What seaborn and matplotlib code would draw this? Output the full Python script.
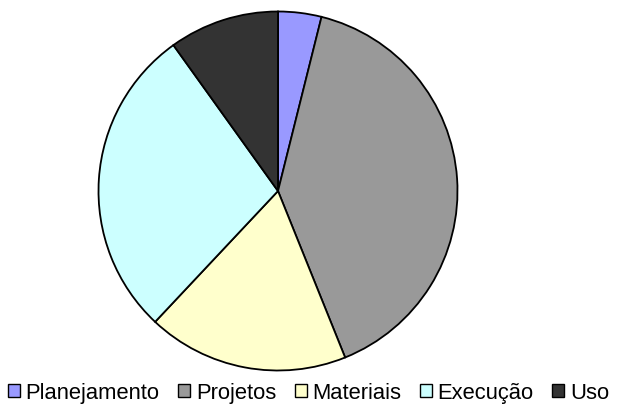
import matplotlib
matplotlib.use("Agg")
import matplotlib.pyplot as plt
from matplotlib.patches import Patch
import seaborn as sns

# data (percent)
labels = ["Planejamento", "Projetos", "Materiais", "Execução", "Uso"]
values = [3.9, 40.0, 18.1, 28.1, 9.9]
colors = ["#9999FF", "#999999", "#FFFFCC", "#CCFFFF", "#333333"]

sns.set_theme(style="white")
plt.rcParams["font.family"] = ["Liberation Sans", "DejaVu Sans"]
plt.rcParams["text.color"] = "black"

fig = plt.figure(figsize=(6.19, 4.06), dpi=100)
W, H = 619, 406
cx, cy, r = 278, 192, 179.5
ax = fig.add_axes([(cx - r) / W, (H - cy - r) / H, 2 * r / W, 2 * r / H])

ax.pie(values, colors=colors, startangle=90, counterclock=False,
       wedgeprops=dict(edgecolor="black", linewidth=1.3), radius=1)
ax.set_xlim(-1.0, 1.0)
ax.set_ylim(-1.0, 1.0)
ax.set_aspect("equal")
ax.axis("off")

handles = [Patch(facecolor=c, edgecolor="black", linewidth=1) for c in colors]
fig.legend(handles, labels, loc="center", bbox_to_anchor=(308.5 / W, (H - 394) / H),
           ncol=5, frameon=False, fontsize=15.8, handlelength=0.55, handleheight=0.55,
           handletextpad=0.25, columnspacing=0.85, borderaxespad=0)

fig.savefig("out.png", dpi=100)
